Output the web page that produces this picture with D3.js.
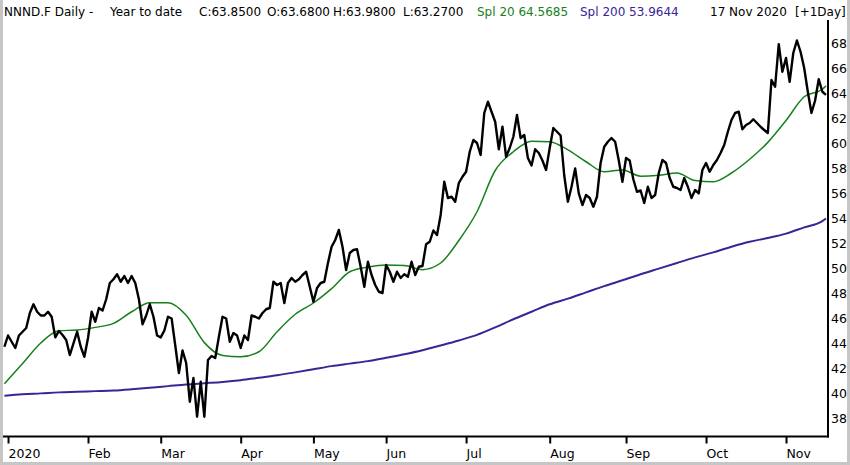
<!DOCTYPE html>
<html>
<head>
<meta charset="utf-8">
<script src="https://cdn.jsdelivr.net/npm/d3@7"></script>
<style>
html, body { margin: 0; padding: 0; background: #fff; }
svg { display: block; font-family: "DejaVu Sans", Verdana, sans-serif; }
</style>
</head>
<body>
<svg id="chart" width="850" height="465"></svg>
<script>
'use strict';

// Exchange closures (weekends are skipped anyway).
var holidays = ['2019-12-31', '2020-01-01', '2020-04-10', '2020-04-13', '2020-05-01'];
var firstSession = '2019-12-30';
var lastSession = '2020-11-17';

var monthTicks = ['2020-01-02', '2020-02-03', '2020-03-02', '2020-04-01', '2020-05-04', '2020-06-01',
    '2020-07-01', '2020-08-03', '2020-09-01', '2020-10-01', '2020-11-02'];
var monthLabels = ['2020', 'Feb', 'Mar', 'Apr', 'May', 'Jun', 'Jul', 'Aug', 'Sep', 'Oct', 'Nov'];
var priceTicks = [38, 40, 42, 44, 46, 48, 50, 52, 54, 56, 58, 60, 62, 64, 66, 68];

// Daily closes, one array per month.
var dec2019Close = [43.7];
var janClose = [44.6, 44.1, 43.6, 44.6, 44.9, 45.2, 46.4, 47.1, 46.5, 46.2, 46.2, 46.5, 46.1, 44.45, 44.96,
    44.64, 44.24, 43.04, 43.97, 44.9, 43.7, 42.9];
var febClose = [44.4, 46.5, 45.7, 46.8, 46.6, 47.5, 48.8, 49.1, 49.5, 48.9, 49.36, 48.8, 49.36, 48.8, 47.5,
    45.5, 46.2, 47.1, 46.1, 44.6];
var marClose = [44.45, 45.0, 46.1, 45.96, 43.8, 41.6, 43.4, 42.4, 39.3, 41.2, 38.1, 40.9, 38.1, 42.64, 42.96,
    42.8, 44.5, 46.1, 45.96, 44.1, 44.8, 44.6];
var aprClose = [43.6, 44.6, 44.24, 46.2, 46.1, 45.96, 46.4, 46.7, 46.8, 48.9, 48.64, 48.8, 47.2, 48.8, 49.2,
    48.9, 49.1, 49.44, 49.7, 48.5];
var mayClose = [47.3, 48.4, 48.8, 48.9, 50.4, 51.7, 52.24, 53.04, 51.7, 49.84, 51.2, 51.44, 51.5, 50.1, 48.5,
    50.5, 49.44, 48.64, 48.1, 48.0];
var junClose = [50.24, 49.7, 48.9, 49.7, 49.2, 49.5, 49.3, 50.5, 49.44, 50.1, 50.16, 51.9, 52.1, 53.0, 52.64,
    54.24, 56.9, 55.6, 55.7, 55.3, 56.8, 57.3];
var julClose = [57.7, 59.3, 60.24, 60.0, 59.04, 62.4, 63.3, 62.5, 61.7, 59.5, 61.3, 58.9, 59.6, 60.5, 62.24,
    60.4, 60.64, 58.8, 58.2, 59.5, 59.2, 58.6, 57.84];
var augClose = [59.6, 61.2, 60.9, 60.6, 57.4, 55.3, 56.5, 57.97, 55.97, 55.04, 55.84, 55.6, 54.9, 55.7, 58.4,
    59.7, 60.1, 60.4, 60.1, 58.6, 56.9];
var sepClose = [58.8, 58.6, 57.1, 56.1, 56.2, 55.2, 56.5, 55.6, 55.84, 57.6, 58.64, 58.4, 57.2, 56.5, 56.4,
    56.24, 57.2, 56.5, 55.6, 56.24, 55.97, 57.84];
var octClose = [58.4, 57.7, 58.24, 58.64, 59.2, 59.84, 60.9, 61.84, 62.4, 62.5, 61.1, 61.44, 61.6, 61.9, 61.6,
    61.3, 61.04, 60.8, 65.04, 64.5, 67.9, 65.7];
var novClose = [66.8, 64.9, 67.2, 68.2, 67.3, 66.0, 64.1, 62.4, 63.4, 65.1, 64.1, 63.85];

// Moving averages.
var maDates = ['2019-12-30', '2020-01-08', '2020-01-15', '2020-01-22', '2020-01-29', '2020-02-05',
    '2020-02-12', '2020-02-19', '2020-02-26', '2020-03-04', '2020-03-11', '2020-03-18', '2020-03-25',
    '2020-04-01', '2020-04-08', '2020-04-17', '2020-04-24', '2020-05-04', '2020-05-11', '2020-05-18',
    '2020-05-25', '2020-06-01', '2020-06-08', '2020-06-15', '2020-06-22', '2020-06-29', '2020-07-06',
    '2020-07-13', '2020-07-20', '2020-07-27', '2020-08-03', '2020-08-10', '2020-08-17', '2020-08-24',
    '2020-08-31', '2020-09-07', '2020-09-14', '2020-09-21', '2020-09-28', '2020-10-05', '2020-10-12',
    '2020-10-19', '2020-10-26', '2020-11-02', '2020-11-09', '2020-11-16', '2020-11-17'];
var sma20 = [40.74, 42.36, 44.0, 44.98, 45.04, 45.25, 45.57, 46.5, 47.22, 47.22, 46.22, 44.03, 43.0,
    42.9, 43.3, 44.9, 46.3, 47.2, 48.35, 49.7, 50.08, 50.25, 50.2, 49.87, 50.4, 52.2, 54.5,
    57.8, 59.3, 60.15, 60.1, 59.45, 58.5, 57.7, 57.85, 57.35, 57.42, 57.6, 57.0, 56.9, 57.6,
    58.7, 60.05, 61.8, 63.7, 64.3, 64.57];
var sma200 = [39.78, 39.9, 39.97, 40.05, 40.1, 40.15, 40.2, 40.3, 40.42, 40.55, 40.68, 40.78, 40.88,
    41.02, 41.22, 41.42, 41.65, 41.9, 42.15, 42.35, 42.55, 42.82, 43.1, 43.42, 43.8, 44.2, 44.65,
    45.25, 45.9, 46.5, 47.1, 47.55, 48.05, 48.55, 49.02, 49.5, 49.95, 50.4, 50.85, 51.25, 51.7,
    52.1, 52.4, 52.75, 53.25, 53.75, 53.96];

var quoteLabels = ['C', 'O', 'H', 'L'];
var quoteValues = [63.85, 63.68, 63.98, 63.27];
var sma20Last = 64.5685;
var sma200Last = 53.9644;

var colours = {price: '#000', sma20: '#17801c', sma200: '#3a2496', frame: '#c6c6c6'};

var svg = d3.select('#chart');
var plot = {left: 3, right: 828, top: 20, bottom: 436.5};

// Build the list of trading sessions.
var fmt = d3.utcFormat('%Y-%m-%d');
var sessions = d3.utcDay.range(new Date(firstSession), d3.utcDay.offset(new Date(lastSession), 1))
    .filter(function(d) { return d.getUTCDay() !== 0 && d.getUTCDay() !== 6; })
    .map(fmt)
    .filter(function(d) { return holidays.indexOf(d) < 0; });

var closes = [].concat(dec2019Close, janClose, febClose, marClose, aprClose, mayClose, junClose,
    julClose, augClose, sepClose, octClose, novClose);
var priceData = sessions.map(function(d, i) { return {date: d, value: closes[i]}; });

var x = d3.scalePoint().domain(sessions).range([4.4, 826]);
var y = d3.scaleLinear().domain([38, 68]).range([418, 43]);

svg.append('defs').append('clipPath').attr('id', 'plotclip')
    .append('rect')
    .attr('x', plot.left).attr('y', plot.top)
    .attr('width', plot.right - plot.left).attr('height', plot.bottom - plot.top);

var lineGroup = svg.append('g').attr('clip-path', 'url(#plotclip)');

var maLine = d3.line()
    .x(function(d) { return x(d.date); })
    .y(function(d) { return y(d.value); })
    .curve(d3.curveMonotoneX);

var pair = function(values) {
    return maDates.map(function(d, i) { return {date: d, value: values[i]}; });
};

lineGroup.append('path')
    .datum(pair(sma200))
    .attr('d', maLine)
    .attr('fill', 'none')
    .attr('stroke', colours.sma200)
    .attr('stroke-width', 2);

lineGroup.append('path')
    .datum(pair(sma20))
    .attr('d', maLine)
    .attr('fill', 'none')
    .attr('stroke', colours.sma20)
    .attr('stroke-width', 1.5);

lineGroup.append('path')
    .datum(priceData)
    .attr('d', d3.line()
        .x(function(d) { return x(d.date); })
        .y(function(d) { return y(d.value); }))
    .attr('fill', 'none')
    .attr('stroke', colours.price)
    .attr('stroke-width', 2.4)
    .attr('stroke-linejoin', 'round');

// Date axis along the bottom.
var xAxis = d3.axisBottom(x)
    .tickValues(monthTicks)
    .tickSize(7)
    .tickFormat(function(d, i) { return monthLabels[i]; });

var xAxisG = svg.append('g')
    .attr('transform', 'translate(0,' + plot.bottom + ')')
    .call(xAxis);
xAxisG.select('.domain').remove();
xAxisG.selectAll('line').attr('stroke', '#000').attr('stroke-width', 2);
xAxisG.selectAll('text')
    .attr('text-anchor', 'start')
    .attr('x', 0)
    .attr('y', 21.5)
    .attr('dy', null)
    .attr('fill', '#000')
    .style('font-size', '12.5px')
    .style('font-family', '"DejaVu Sans", Verdana, sans-serif');

// Price axis on the right.
var yAxis = d3.axisRight(y)
    .tickValues(priceTicks)
    .tickSize(0)
    .tickPadding(3);

var yAxisG = svg.append('g')
    .attr('transform', 'translate(' + plot.right + ',0)')
    .call(yAxis);
yAxisG.select('.domain').remove();
yAxisG.selectAll('text')
    .attr('fill', '#000')
    .style('font-size', '12.5px')
    .style('font-family', '"DejaVu Sans", Verdana, sans-serif');

svg.append('line')
    .attr('x1', plot.left).attr('x2', plot.right + 1)
    .attr('y1', plot.bottom).attr('y2', plot.bottom)
    .attr('stroke', '#000').attr('stroke-width', 2);
svg.append('line')
    .attr('x1', plot.right).attr('x2', plot.right)
    .attr('y1', plot.top).attr('y2', plot.bottom + 1)
    .attr('stroke', '#000').attr('stroke-width', 2);

// Window frame.
svg.append('rect').attr('x', 0).attr('y', 0).attr('width', 3).attr('height', 465).attr('fill', colours.frame);
svg.append('rect').attr('x', 847).attr('y', 0).attr('width', 3).attr('height', 465).attr('fill', colours.frame);
svg.append('rect').attr('x', 0).attr('y', 462).attr('width', 850).attr('height', 3).attr('fill', colours.frame);

// Header line.
var header = svg.append('text')
    .attr('y', 16)
    .style('font-size', '12px')
    .attr('fill', '#000');

header.append('tspan').attr('x', 4).text('NNND.F Daily -');
header.append('tspan').attr('x', 110).text('Year to date');

var quoteX = [199, 267, 333, 403];
quoteLabels.forEach(function(label, i) {
    header.append('tspan')
        .attr('x', quoteX[i])
        .text(label + ':' + quoteValues[i].toFixed(4));
});

header.append('tspan').attr('x', 477).attr('fill', colours.sma20)
    .text('Spl 20 ' + sma20Last.toFixed(4));
header.append('tspan').attr('x', 580).attr('fill', colours.sma200)
    .text('Spl 200 ' + sma200Last.toFixed(4));
header.append('tspan').attr('x', 710)
    .text(d3.utcFormat('%-d %b %Y')(new Date(lastSession)));
header.append('tspan').attr('x', 795).text('[+1Day]');
</script>
</body>
</html>
